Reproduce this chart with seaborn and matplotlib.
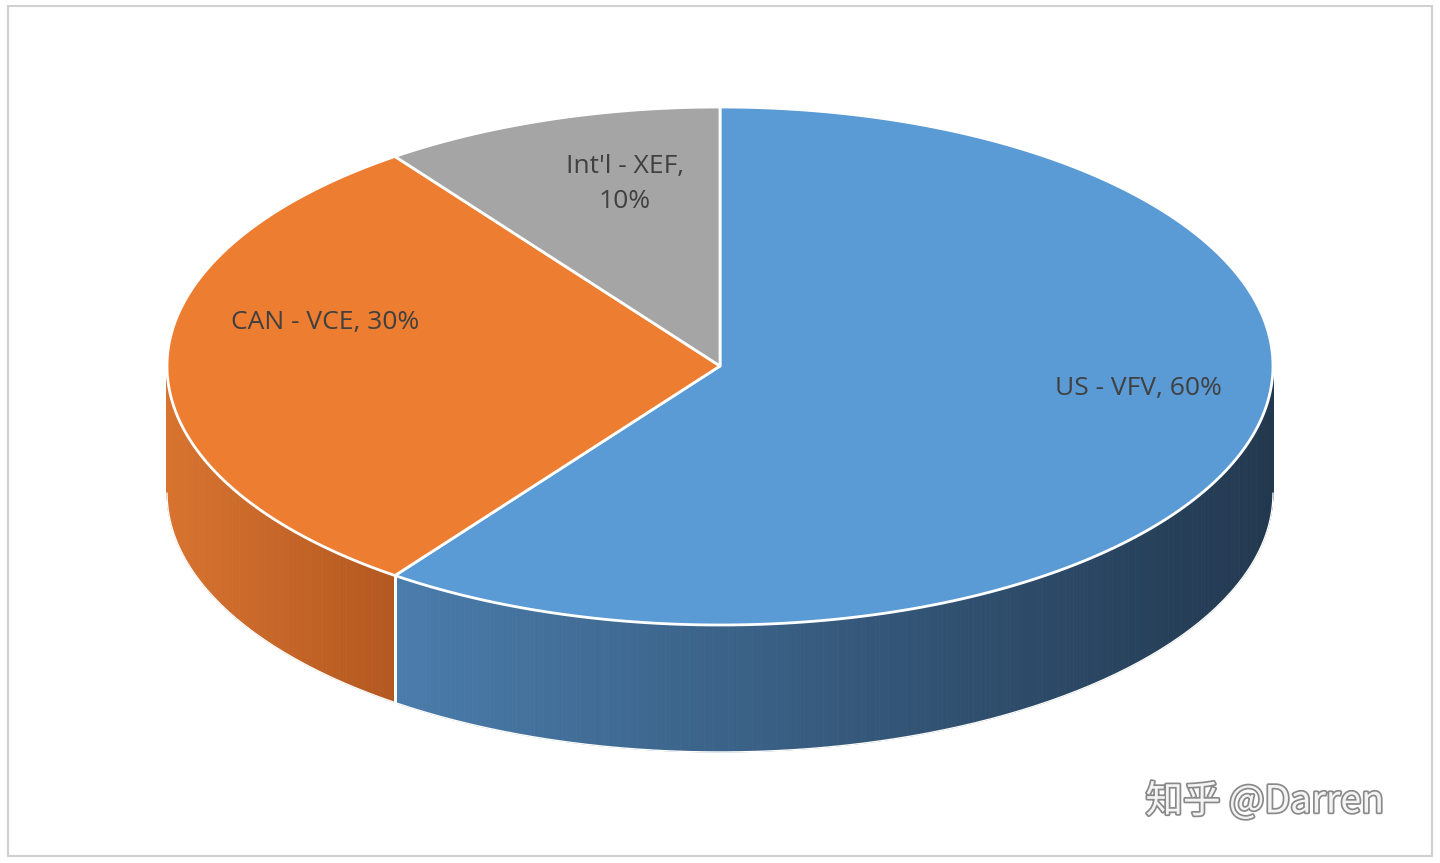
import numpy as np
import matplotlib
matplotlib.use("Agg")
import matplotlib.pyplot as plt
import matplotlib.patheffects as pe
from matplotlib.colors import to_rgb
import seaborn as sns

sns.set_style("white")
plt.rcParams['font.family'] = ['Noto Sans CJK SC', 'DejaVu Sans']

labels = ["US - VFV", "CAN - VCE", "Int'l - XEF"]
values = [60, 30, 10]
top_colors = ["#5b9bd5", "#ed7d31", "#a5a5a5"]
side_left = ["#4a7cab", "#d8732f", "#8a8a8a"]
side_right = ["#22384f", "#b35820", "#6a6a6a"]

cx, cy, a, b, depth = 720, 366, 553, 259, 127

fig = plt.figure(figsize=(14.4, 8.63), dpi=100)
ax = fig.add_axes([0, 0, 1, 1])
ax.set_xlim(0, 1440); ax.set_ylim(863, 0); ax.axis("off")

# frame
ax.add_patch(plt.Rectangle((8, 6), 1424, 850, fill=False, ec="#d0d0d0", lw=1.5))

fr = np.array(values) / sum(values)
starts = -90 + 360 * np.concatenate([[0], np.cumsum(fr)[:-1]])
ends = starts + 360 * fr

def pt(t):
    t = np.radians(t)
    return cx + a * np.cos(t), cy + b * np.sin(t)

# side walls (front half, theta in [0,180])
for i in range(len(values)):
    lo, hi = max(starts[i], 0), min(ends[i], 180)
    # handle wrap
    for s, e in [(lo, hi), (max(starts[i], 360), min(ends[i], 540))]:
        if e <= s:
            continue
        ts = np.linspace(s, e, int((e - s) * 2) + 2)
        xs_all = [pt(t)[0] for t in ts]
        xmin, xmax = min(xs_all), max(xs_all)
        cl, cr = np.array(to_rgb(side_left[i])), np.array(to_rgb(side_right[i]))
        for t0, t1 in zip(ts[:-1], ts[1:]):
            x0, y0 = pt(t0); x1, y1 = pt(t1)
            f = ((x0 + x1) / 2 - xmin) / max(xmax - xmin, 1)
            c = cl + (cr - cl) * f
            ax.add_patch(plt.Polygon([(x0, y0), (x1, y1), (x1, y1 + depth), (x0, y0 + depth)],
                                     closed=True, fc=c, ec=c, lw=0.6))
        # seam lines
        for t in (s, e):
            if 0 < t < 180:
                x, y = pt(t)
                ax.plot([x, x], [y, y + depth], color="white", lw=2)

# bottom outline
ts = np.linspace(0, 180, 200)
ax.plot([pt(t)[0] for t in ts], [pt(t)[1] + depth for t in ts], color="white", lw=1)

# top faces
for i in range(len(values)):
    ts = np.linspace(starts[i], ends[i], 200)
    poly = [(cx, cy)] + [pt(t) for t in ts]
    ax.add_patch(plt.Polygon(poly, closed=True, fc=top_colors[i], ec="white", lw=2, joinstyle="round"))

# labels
txt = dict(fontsize=19, color="#404040", ha="center", va="center", family=['Open Sans', 'DejaVu Sans'])
ax.text(1138, 388, f"{labels[0]}, {values[0]}%", **txt)
ax.text(325, 322, f"{labels[1]}, {values[1]}%", **txt)
ax.text(625, 184, f"{labels[2]},\n{values[2]}%", linespacing=1.5, **txt)

ax.text(1265, 802, "知乎 @Darren", fontsize=27, color="#f4f4f4", ha="center", va="center",
        path_effects=[pe.withStroke(linewidth=2.5, foreground="#8a8a8a")])

fig.savefig("out.png", dpi=100)
